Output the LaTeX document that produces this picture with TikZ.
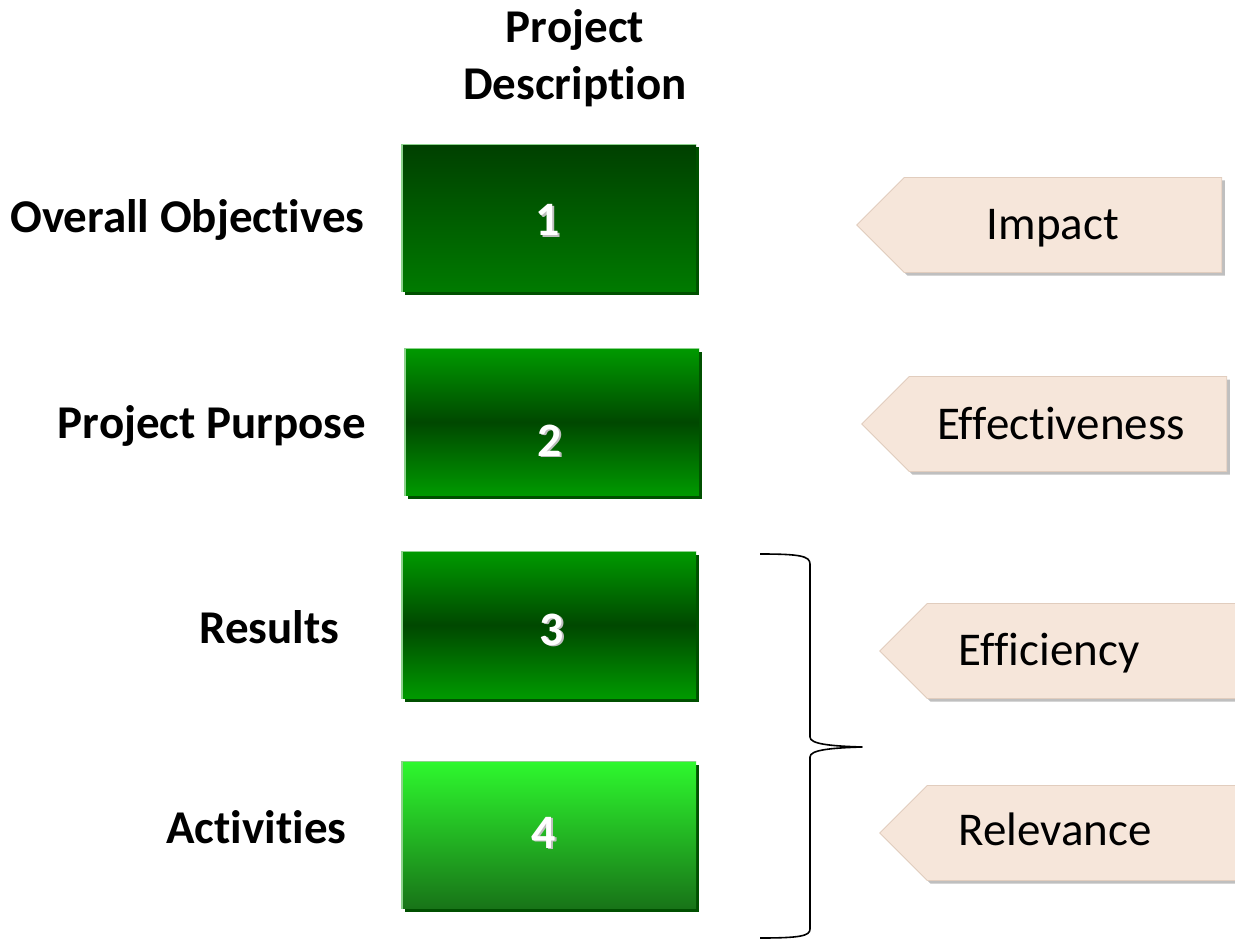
\documentclass[tikz,border=0pt]{standalone}
\usepackage{fontspec}
\setmainfont{Carlito}
\usetikzlibrary{shapes.symbols}
\definecolor{gA}{RGB}{0,64,0}
\definecolor{gB}{RGB}{0,122,0}
\definecolor{gC}{RGB}{0,154,0}
\definecolor{gD}{RGB}{0,72,0}
\definecolor{gE}{RGB}{46,248,46}
\definecolor{gF}{RGB}{24,116,24}
\definecolor{gShadow}{RGB}{0,80,0}
\definecolor{gLight}{RGB}{140,210,140}
\definecolor{peach}{RGB}{246,230,218}
\definecolor{peachEdge}{RGB}{225,205,190}
\tikzset{
  box/.style={rectangle, minimum width=294pt, minimum height=147pt, inner sep=0pt,
    preaction={fill=gShadow, transform canvas={shift={(3pt,-3pt)}}}},
  num/.style={anchor=base, text=white, font=\fontsize{48}{56}\bfseries\selectfont},
  lbl/.style={anchor=base east, font=\fontsize{47}{56}\bfseries\selectfont},
  ttl/.style={anchor=base, font=\fontsize{47}{56}\bfseries\selectfont},
  arrowbox/.style={signal, signal to=west, signal pointer angle=90, fill=peach,
    draw=peachEdge, line width=0.8pt, minimum width=365pt, minimum height=95pt, inner sep=0pt,
    preaction={fill=black!25, transform canvas={shift={(3pt,-3pt)}}}},
  atxt/.style={anchor=base, font=\fontsize{47}{56}\selectfont},
  brace/.style={line width=1.6pt, line join=round}
}
\newcommand{\shnum}[1]{\makebox[0pt][l]{\hspace{1.5pt}\raisebox{-1.5pt}{\textcolor{black!25}{#1}}}#1}
\newcommand{\nl}{\kern0pt }
\begin{document}
\begin{tikzpicture}[x=1pt,y=-1pt]
\useasboundingbox (0,0) rectangle (1235,939);
\clip (0,0) rectangle (1235,939);
% titles
\node[ttl] (t1) at (575,43) {Project};
\node[ttl] (t2) at (575,100) {Descrip\nl t\nl i\nl on};
% left labels
\node[lbl] (l1) at (368,232) {Overall Objec\nl t\nl i\nl ves};
\node[lbl] (l2) at (370,438) {Project Purpose};
\node[lbl] (l3) at (343,643) {Results};
\node[lbl] (l4) at (350,843) {Ac\nl t\nl i\nl vi\nl t\nl i\nl es};
% boxes
\node[box, top color=gA, bottom color=gB] (b1) at (549,218) {};
\node[box, top color=gC, bottom color=gC, middle color=gD] (b2) at (552,422) {};
\node[box, top color=gC, bottom color=gC, middle color=gD] (b3) at (549,625) {};
\node[box, top color=gE, bottom color=gF] (b4) at (549,835) {};
\foreach \b in {b1,b2,b3,b4}{
  \draw[gLight, line width=1.5pt] (\b.south west) -- (\b.north west) -- (\b.north east);
}
\node[num] (n1) at (548,236) {\shnum{1}};
\node[num] (n2) at (550,456) {\shnum{2}};
\node[num] (n3) at (552,645) {\shnum{3}};
\node[num] (n4) at (544,848) {\shnum{4}};
% arrows
\node[arrowbox] (a1) at (1063,225) {};
\node[arrowbox] (a2) at (1068,424) {};
\node[arrowbox] (a3) at (1086,651) {};
\node[arrowbox] (a4) at (1086,833) {};
\node[atxt] (x1) at (1053,240) {Impact};
\node[atxt] (x2) at (1061,439) {Ef\nl fec\nl t\nl i\nl veness};
\node[atxt, anchor=base west] (x3) at (955,665) {Ef\nl f\nl iciency};
\node[atxt, anchor=base west] (x4) at (955,845) {Relevance};
% brace
\coordinate (bt) at (760,554);
\coordinate (bm) at (862,747);
\coordinate (bb) at (760,938);
\draw[brace] (bt) .. controls (800,554) and (810,556) .. (810,564) -- (810,737)
  .. controls (810,744) and (830,746) .. (bm)
  .. controls (830,748) and (810,750) .. (810,757) -- (810,929)
  .. controls (810,936) and (800,938) .. (bb);
\end{tikzpicture}
\end{document}
